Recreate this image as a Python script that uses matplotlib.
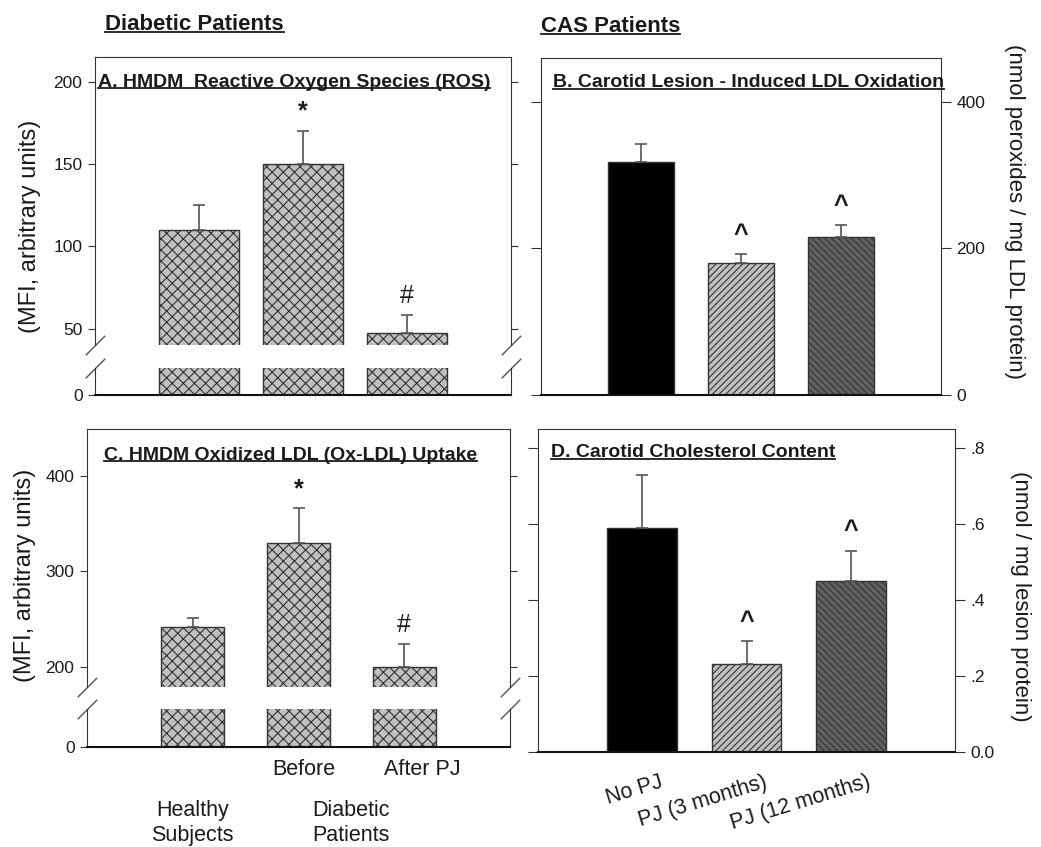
import matplotlib
matplotlib.use('Agg')
import matplotlib.pyplot as plt
from matplotlib.lines import Line2D

plt.rcParams['font.family'] = ['Liberation Sans', 'DejaVu Sans']
plt.rcParams['hatch.linewidth'] = 0.8

# ---- data ----
diab_groups = ['Healthy', 'Before', 'After PJ']
ros_mean = [110, 150, 47]
ros_sem = [15, 20, 11]
ros_marks = ['', '*', '#']

oxldl_mean = [242, 330, 200]
oxldl_sem = [9, 36, 24]
oxldl_marks = ['', '*', '#']

cas_groups = ['No PJ', 'PJ (3 months)', 'PJ (12 months)']
ldlox_mean = [318, 180, 216]
ldlox_sem = [24, 12, 16]
ldlox_marks = ['', '^', '^']

chol_mean = [0.59, 0.232, 0.45]
chol_sem = [0.14, 0.06, 0.08]
chol_marks = ['', '^', '^']

W, H = 1041, 847
fig = plt.figure(figsize=(W / 100, H / 100), dpi=100)
TXT = '#1a1a1a'
EDGE = '#333333'


def fax(l, t, r, b):
    return fig.add_axes([l / W, 1 - b / H, (r - l) / W, (b - t) / H])


def add_marks(ax, x, means, sems, marks):
    for xi, m, s, sym in zip(x, means, sems, marks):
        if sym:
            ax.annotate(sym, (xi, m + s), xytext=(0, 14), textcoords='offset points',
                        ha='center', va='center', fontsize=18, color=TXT,
                        fontweight='normal' if sym == '#' else 'bold',
                        annotation_clip=False)


def broken_panel(top_box, low_box, means, sems, marks, top_lim, low_lim, ticks, width):
    x = [1, 2, 3]
    axt = fax(*top_box)
    axl = fax(*low_box)
    for ax in (axt, axl):
        ax.bar(x, means, width, color='#c0c0c0', edgecolor=EDGE, hatch='xxx', linewidth=1)
        ax.set_xlim(0, 4)
        ax.set_xticks([])
        for s in ax.spines.values():
            s.set_color(EDGE)
    axt.set_ylim(*top_lim)
    axl.set_ylim(*low_lim)
    axt.errorbar(x, means, yerr=[[0] * 3, sems], fmt='none', ecolor='#555555',
                 elinewidth=1.2, capsize=4, capthick=1.2)
    axt.spines['bottom'].set_visible(False)
    axl.spines['top'].set_visible(False)
    axl.spines['bottom'].set_linewidth(1.5)
    axl.spines['bottom'].set_color('#111111')
    axt.set_yticks(ticks)
    axl.set_yticks([0])
    axt.tick_params(axis='y', left=True, right=True, direction='out', length=5,
                    color=EDGE, labelsize=12.5, labelcolor=TXT, pad=4)
    axl.tick_params(axis='y', left=True, right=False, direction='out', length=5,
                    color=EDGE, labelsize=12.5, labelcolor=TXT, pad=4)
    axl.tick_params(axis='x', bottom=False)
    axt.tick_params(axis='x', bottom=False)
    kw = dict(marker=[(-1, -1), (1, 1)], markersize=14, linestyle='none',
              color='#555555', mec='#555555', mew=1, clip_on=False)
    axt.plot([0, 1], [0, 0], transform=axt.transAxes, **kw)
    axl.plot([0, 1], [1, 1], transform=axl.transAxes, **kw)
    add_marks(axt, x, means, sems, marks)
    return axt, axl


def cas_panel(box, means, sems, marks, ylim, ticks, ticklabels, width):
    x = [1, 2, 3]
    ax = fax(*box)
    ax.bar(x, means, width, color=['black', '#c0c0c0', '#606060'], edgecolor=EDGE,
           hatch=[None, '/////', '\\\\\\\\\\'], linewidth=1)
    ax.errorbar(x, means, yerr=[[0] * 3, sems], fmt='none', ecolor='#555555',
                elinewidth=1.2, capsize=4, capthick=1.2)
    ax.set_xlim(0, 4)
    ax.set_ylim(*ylim)
    ax.set_xticks([])
    ax.set_yticks(ticks)
    ax.set_yticklabels(ticklabels)
    ax.yaxis.tick_right()
    ax.tick_params(axis='y', left=True, right=True, labelleft=False, labelright=True,
                   direction='out', length=7, color=EDGE, labelsize=12.5,
                   labelcolor=TXT, pad=4)
    for s in ax.spines.values():
        s.set_color(EDGE)
    ax.spines['bottom'].set_linewidth(1.5)
    ax.spines['bottom'].set_color('#111111')
    add_marks(ax, x, means, sems, marks)
    return ax


axA, axA2 = broken_panel((95, 57, 511, 345), (95, 368, 511, 395), ros_mean, ros_sem,
                         ros_marks, (40, 215), (0, 16.5), [50, 100, 150, 200], 0.76)
axC, axC2 = broken_panel((87, 429, 510, 687), (87, 709, 510, 747), oxldl_mean, oxldl_sem,
                         oxldl_marks, (179, 449), (0, 40), [200, 300, 400], 0.6)
axB = cas_panel((541, 58, 941, 395), ldlox_mean, ldlox_sem, ldlox_marks, (0, 460),
                [0, 200, 400], ['0', '200', '400'], 0.66)
axD = cas_panel((538, 429, 955, 752), chol_mean, chol_sem, chol_marks, (0, 0.85),
                [0, 0.2, 0.4, 0.6, 0.8], ['0.0', '.2', '.4', '.6', '.8'], 0.67)

# panel titles
titles = [
    axA.text(0.007, 0.913, 'A. HMDM  Reactive Oxygen Species (ROS)', transform=axA.transAxes),
    axB.text(0.03, 0.926, 'B. Carotid Lesion - Induced LDL Oxidation', transform=axB.transAxes),
    axC.text(0.04, 0.899, 'C. HMDM Oxidized LDL (Ox-LDL) Uptake', transform=axC.transAxes),
    axD.text(0.031, 0.926, 'D. Carotid Cholesterol Content', transform=axD.transAxes),
]
for t in titles:
    t.set(fontsize=14, fontweight='bold', color=TXT, va='center', ha='left')

headers = [
    fig.text(105 / W, 1 - 24 / H, 'Diabetic Patients'),
    fig.text(541 / W, 1 - 26 / H, 'CAS Patients'),
]
for t in headers:
    t.set(fontsize=16, fontweight='bold', color=TXT, va='center', ha='left')

# axis labels
fig.text(30 / W, 1 - 226 / H, '(MFI, arbitrary units)', rotation=90, ha='center',
         va='center', fontsize=17, color=TXT)
fig.text(25 / W, 1 - 575 / H, '(MFI, arbitrary units)', rotation=90, ha='center',
         va='center', fontsize=17, color=TXT)
fig.text(1015 / W, 1 - 212 / H, '(nmol peroxides / mg LDL protein)', rotation=270,
         ha='center', va='center', fontsize=16, color=TXT)
fig.text(1020 / W, 1 - 596 / H, '(nmol / mg lesion protein)', rotation=270,
         ha='center', va='center', fontsize=16, color=TXT)

# x labels under C
xl_kw = dict(transform=axC2.get_xaxis_transform(), ha='center', va='center',
             fontsize=15.5, color=TXT, clip_on=False)
axC2.text(2.05, -0.6, diab_groups[1], **xl_kw)
axC2.text(3.17, -0.6, diab_groups[2], **xl_kw)
axC2.text(1.0, -2.0, 'Healthy\nSubjects', **xl_kw)
axC2.text(2.5, -2.0, 'Diabetic\nPatients', **xl_kw)

# rotated x labels under D
for xi, lab in zip([1, 2, 3], cas_groups):
    axD.annotate(lab, (xi, 0), xycoords=('data', 'axes fraction'), xytext=(12, -14),
                 textcoords='offset points', rotation=17, rotation_mode='anchor',
                 ha='right', va='top', fontsize=15.5, color=TXT, annotation_clip=False)

# underline titles and headers
fig.canvas.draw()
r = fig.canvas.get_renderer()
inv = fig.transFigure.inverted()
for t in titles + headers:
    bb = t.get_window_extent(r)
    y = bb.y0 + 2.5
    (x0, yy), (x1, _) = inv.transform([(bb.x0, y), (bb.x1, y)])
    fig.add_artist(Line2D([x0, x1], [yy, yy], transform=fig.transFigure,
                          color=TXT, linewidth=1.3))

fig.savefig('out.png', dpi=100)
